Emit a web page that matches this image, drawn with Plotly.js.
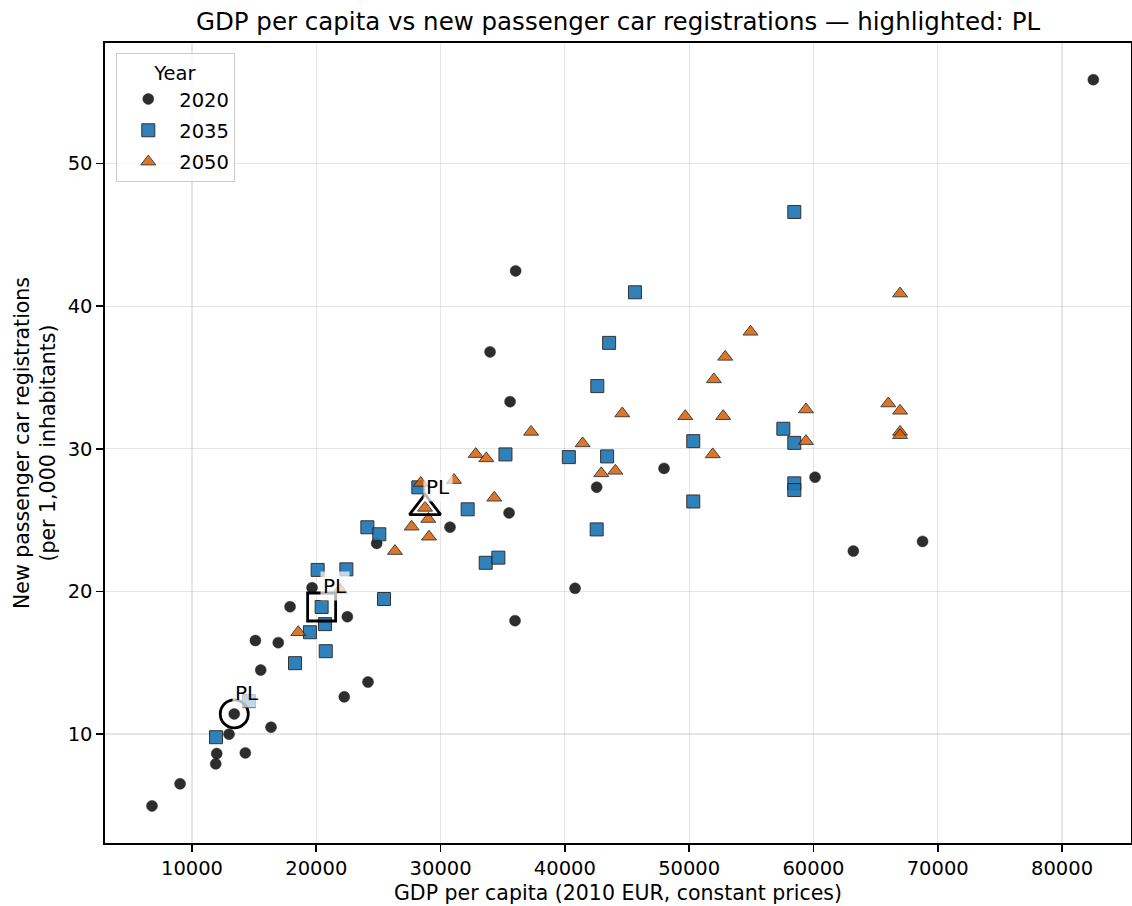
<!DOCTYPE html>
<html>
<head>
<meta charset="utf-8">
<script src="https://cdn.plot.ly/plotly-3.0.1.min.js"></script>
<style>
html,body{margin:0;padding:0;background:#fff;}
#chart{width:1132px;height:906px;}
</style>
</head>
<body>
<div id="chart"></div>
<script>
// ---- data ----
const years = ['2020', '2035', '2050'];

const gdp2020 = [6780, 9040, 11910, 11990, 12980, 13400, 14290, 15530, 16360, 15100, 16940, 22250, 19660, 17890, 22500, 24860, 24160, 35510, 30760, 35990, 35590, 36040, 33980, 40820, 47980, 42560, 60130, 63210, 68780, 82520];
const reg2020 = [4.95, 6.5, 7.9, 8.62, 9.98, 11.4, 8.67, 14.48, 10.47, 16.55, 16.4, 12.6, 20.25, 18.92, 18.22, 23.36, 13.64, 25.5, 24.5, 17.94, 33.3, 42.47, 36.79, 20.21, 28.62, 27.3, 28.0, 22.82, 23.5, 55.88];

const gdp2035 = [11930, 14590, 18290, 20760, 19490, 20700, 20430, 20110, 22420, 25450, 24110, 25070, 28210, 32180, 33630, 34650, 35220, 40320, 43400, 42610, 43560, 45640, 42560, 50330, 50330, 57580, 58460, 58460, 58460, 58460];
const reg2035 = [9.77, 12.3, 14.96, 15.8, 17.13, 17.7, 18.9, 21.5, 21.54, 19.46, 24.49, 24.0, 27.29, 25.75, 22.0, 22.36, 29.6, 29.41, 29.46, 34.39, 37.42, 40.97, 24.34, 30.53, 26.3, 31.4, 30.41, 27.57, 27.1, 46.6];

const gdp2050 = [18550, 21910, 26330, 27670, 29070, 29010, 28750, 28400, 31080, 32830, 33680, 34320, 37280, 41430, 42930, 44060, 44620, 49690, 51900, 51990, 52740, 52900, 54940, 59400, 59400, 66020, 66970, 66970, 66970, 66970];
const reg2050 = [17.13, 20.1, 22.82, 24.53, 23.83, 25.07, 25.85, 27.6, 27.8, 29.62, 29.32, 26.56, 31.18, 30.37, 28.27, 28.45, 32.47, 32.28, 29.6, 34.86, 32.28, 36.44, 38.2, 32.75, 30.53, 33.17, 32.66, 31.18, 30.95, 40.88];

// highlighted country and its position in each series
const highlightCode = 'PL';
const highlightIndex = [5, 6, 6]; // 2020, 2035, 2050

// ---- chart ----
const FONT = 'DejaVu Sans, Liberation Sans, sans-serif';
const seriesX = [gdp2020, gdp2035, gdp2050];
const seriesY = [reg2020, reg2035, reg2050];
const symbols = ['circle', 'square', 'triangle-up'];
const sizes = [11, 13, 13];
const fills = ['#222222', '#1f77b4', '#d95f02'];
const opac = [0.95, 0.92, 0.85];
const hlSymbols = ['circle-open', 'square-open', 'triangle-up-open'];
const hlSizes = [28, 28, 27];

const traces = [];
years.forEach((yr, i) => {
  traces.push({
    type: 'scatter', mode: 'markers', name: yr,
    x: seriesX[i], y: seriesY[i],
    legendgroup: yr,
    marker: {symbol: symbols[i], size: sizes[i], color: fills[i], opacity: opac[i],
             line: {color: '#222222', width: i === 0 ? 0.5 : 1}},
    hoverinfo: 'x+y'
  });
});
years.forEach((yr, i) => {
  const k = highlightIndex[i];
  traces.push({
    type: 'scatter', mode: 'markers', showlegend: false,
    x: [seriesX[i][k]], y: [seriesY[i][k]],
    marker: {symbol: hlSymbols[i], size: hlSizes[i], color: '#000000',
             line: {color: '#000000', width: 2.8}},
    hoverinfo: 'skip'
  });
});

const annotations = years.map((yr, i) => {
  const k = highlightIndex[i];
  return {
    x: seriesX[i][k], y: seriesY[i][k], xref: 'x', yref: 'y',
    text: highlightCode, showarrow: false,
    xanchor: 'left', yanchor: 'bottom', xshift: -2, yshift: 6,
    bgcolor: 'rgba(255,255,255,0.7)', borderpad: 2,
    font: {family: FONT, size: 20, color: '#000'}
  };
});

const axisCommon = {
  showline: true, linecolor: '#000', linewidth: 1.6, mirror: true,
  ticks: 'outside', ticklen: 7, tickwidth: 1.6, tickcolor: '#000',
  showgrid: true, gridcolor: 'rgba(0,0,0,0.1)', gridwidth: 1.2,
  zeroline: false,
  tickfont: {family: FONT, size: 19.5, color: '#000'},
  automargin: false
};

const layout = {
  width: 1132, height: 906,
  margin: {l: 105, r: 1, t: 43, b: 63},
  paper_bgcolor: '#fff', plot_bgcolor: '#fff',
  font: {family: FONT, color: '#000'},
  title: {text: 'GDP per capita vs new passenger car registrations — highlighted: PL',
          font: {family: FONT, size: 24.5, color: '#000'},
          x: 0.5, xref: 'paper', xanchor: 'center', y: 0.976, yref: 'container', yanchor: 'middle'},
  xaxis: Object.assign({}, axisCommon, {
    range: [3000, 85550], dtick: 10000, tick0: 0, tickformat: 'd',
    title: {text: 'GDP per capita (2010 EUR, constant prices)', font: {family: FONT, size: 20.5, color: '#000'}, standoff: 6}
  }),
  yaxis: Object.assign({}, axisCommon, {
    range: [2.35, 58.45], dtick: 10, tick0: 0,
    title: {text: 'New passenger car registrations<br>(per 1,000 inhabitants)', font: {family: FONT, size: 20.5, color: '#000'}, standoff: 6}
  }),
  legend: {
    x: 0.011, y: 0.987, xanchor: 'left', yanchor: 'top',
    bgcolor: 'rgba(255,255,255,0.8)', bordercolor: '#cccccc', borderwidth: 1,
    font: {family: FONT, size: 19.5, color: '#000'},
    title: {text: 'Year', side: 'top center', font: {family: FONT, size: 19.5, color: '#000'}},
    tracegroupgap: 3, itemwidth: 52
  },
  annotations: annotations,
  showlegend: true
};

Plotly.newPlot('chart', traces, layout, {displayModeBar: false, staticPlot: true});
</script>
</body>
</html>
